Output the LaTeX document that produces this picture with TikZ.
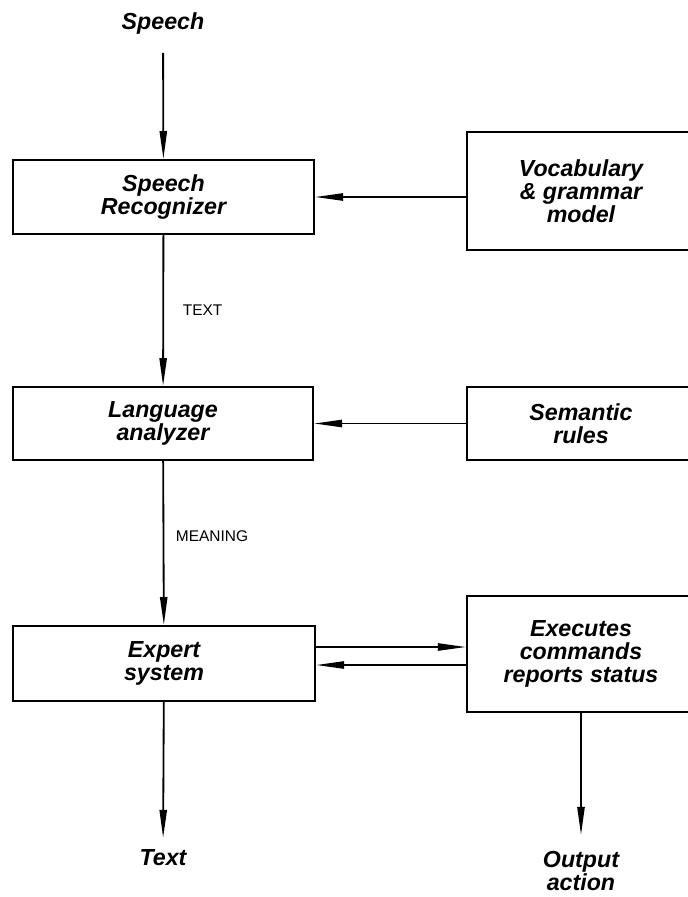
\documentclass[tikz,border=0pt]{standalone}
\usepackage{fontspec}
\setmainfont{Liberation Sans}
\usetikzlibrary{arrows.meta}

\newcommand{\blockfont}{\fontsize{16.5}{16.5}\selectfont\bfseries\itshape}
\newcommand{\signalfont}{\fontsize{11}{12}\selectfont}

\tikzset{
  blockbox/.style={draw, line width=1.4pt, align=center, font=\blockfont, inner sep=0pt},
  endlabel/.style={align=center, font=\blockfont},
  signal/.style={font=\signalfont},
  flow/.style={line width=1.3pt, -{Triangle[length=0.7cm, width=0.18cm]}}
}

\begin{document}
\begin{tikzpicture}[x=0.025cm, y=-0.025cm]
\useasboundingbox (0,0) rectangle (687,897);

% left column
    \node[endlabel] (speech) at (163,23) {Speech};
    \node[blockbox, minimum width=7.525cm, minimum height=1.85cm] (rec) at (163.5,197) {Speech\\Recognizer};
    \node[blockbox, minimum width=7.5cm, minimum height=1.825cm] (lang) at (163,423.5) {Language\\analyzer};
    \node[blockbox, minimum width=7.55cm, minimum height=1.875cm] (exp) at (164,663.5) {Expert\\system};
    \node[endlabel] (txt) at (163,858) {Text};

% right column (cut at the page edge)
    \node[blockbox, minimum width=5.7cm, minimum height=2.95cm] (vocab) at (581,191) {Vocabulary\\\& grammar\\model};
    \node[blockbox, minimum width=5.7cm, minimum height=1.825cm] (sem) at (581,423.5) {Semantic\\rules};
    \node[blockbox, minimum width=5.7cm, minimum height=2.9cm] (exe) at (581,654) {Executes\\commands\\reports status};
    \node[endlabel] (out) at (581,871) {Output\\action};

% levels of the two links between expert system and executor
    \coordinate (fwd) at (390,647);
    \coordinate (bck) at (390,665);

% main chain
    \draw[flow, shorten <=10pt] (speech) -- (rec);
    \draw[flow] (rec) -- (lang) node[signal, midway, right=0.35cm] {TEXT};
    \draw[flow] (lang) -- (exp) node[signal, pos=0.46, right=0.17cm] {MEANING};
    \draw[flow, shorten >=5pt] (exp) -- (txt);

% knowledge sources
    \draw[flow] (rec.east -| vocab.west) -- (rec.east);
    \draw[flow] (sem) -- (lang);

% executor
    \draw[flow] (exp.east |- fwd) -- (exe.west |- fwd);
    \draw[flow] (exe.west |- bck) -- (exp.east |- bck);
    \draw[flow, shorten >=8pt] (exe.south -| out) -- (out);

\end{tikzpicture}
\end{document}
